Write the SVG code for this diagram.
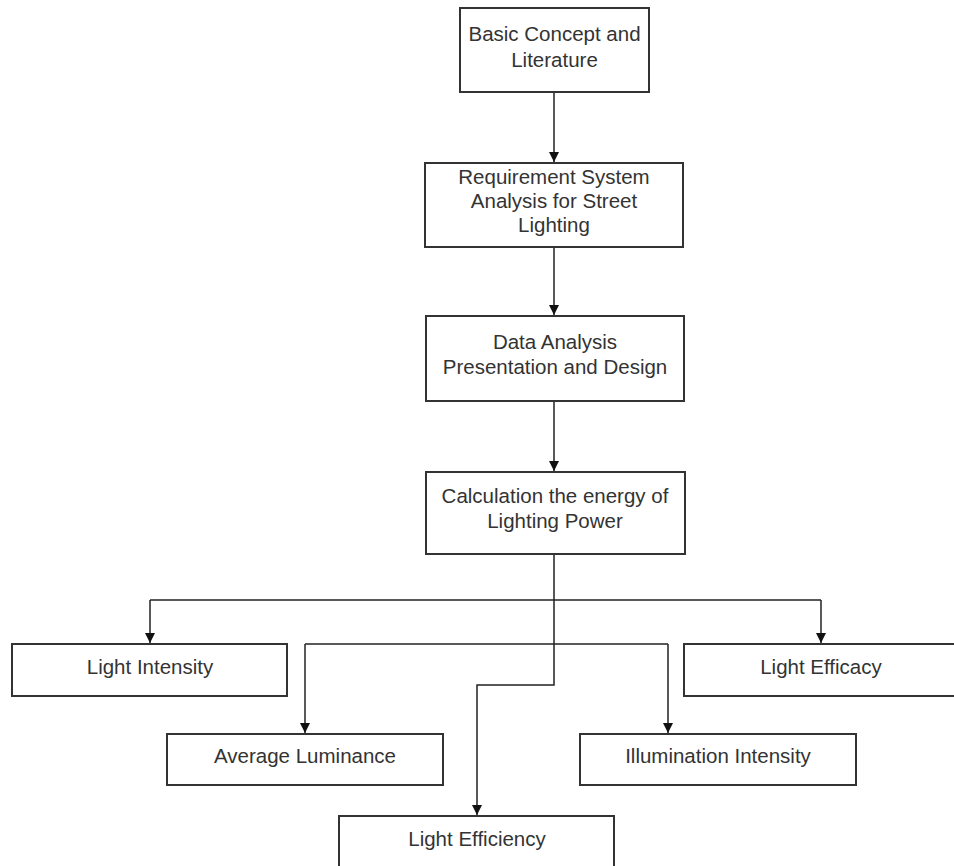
<svg xmlns="http://www.w3.org/2000/svg" width="954" height="866" viewBox="0 0 954 866">
<defs>
<style>
.box{fill:#fff;stroke:#333;stroke-width:2}
.t{font-family:"Liberation Sans",Arial,sans-serif;font-size:20.5px;fill:#333;text-anchor:middle}
.c{fill:none;stroke:#222;stroke-width:1.5}
</style>
<marker id="ah" viewBox="0 0 10 12" refX="10" refY="6" markerWidth="10" markerHeight="12" markerUnits="userSpaceOnUse" orient="auto">
<path d="M0,1 L10,6 L0,11 Z" fill="#111"/>
</marker>
</defs>
<rect width="954" height="866" fill="#fff"/>
<g id="connectors">
<path class="c" d="M554,93 V162" marker-end="url(#ah)"/>
<path class="c" d="M554,247 V315" marker-end="url(#ah)"/>
<path class="c" d="M554,401 V471" marker-end="url(#ah)"/>
<path class="c" d="M554,555 V685 H477 V815" marker-end="url(#ah)"/>
<path class="c" d="M150,600 H821"/>
<path class="c" d="M150,600 V643" marker-end="url(#ah)"/>
<path class="c" d="M821,600 V643" marker-end="url(#ah)"/>
<path class="c" d="M305,644 H668"/>
<path class="c" d="M305,644 V733" marker-end="url(#ah)"/>
<path class="c" d="M668,644 V733" marker-end="url(#ah)"/>
</g>
<g id="n1"><rect class="box" x="460" y="8" width="189" height="84"/>
<text class="t" x="554.5" y="41">Basic Concept and</text><text class="t" x="554.5" y="67">Literature</text></g>
<g id="n2"><rect class="box" x="425" y="163" width="258" height="84"/>
<text class="t" x="554" y="184">Requirement System</text><text class="t" x="554" y="208">Analysis for Street</text><text class="t" x="554" y="232">Lighting</text></g>
<g id="n3"><rect class="box" x="426" y="316" width="258" height="85"/>
<text class="t" x="555" y="349">Data Analysis</text><text class="t" x="555" y="374">Presentation and Design</text></g>
<g id="n4"><rect class="box" x="426" y="472" width="259" height="82"/>
<text class="t" x="555" y="503">Calculation the energy of</text><text class="t" x="555" y="528">Lighting Power</text></g>
<g id="n5"><rect class="box" x="12" y="644" width="275" height="52"/>
<text class="t" x="150" y="674">Light Intensity</text></g>
<g id="n6"><rect class="box" x="684" y="644" width="275" height="52"/>
<text class="t" x="821" y="674">Light Efficacy</text></g>
<g id="n7"><rect class="box" x="167" y="734" width="276" height="51"/>
<text class="t" x="305" y="763">Average Luminance</text></g>
<g id="n8"><rect class="box" x="580" y="734" width="276" height="51"/>
<text class="t" x="718" y="763">Illumination Intensity</text></g>
<g id="n9"><rect class="box" x="339" y="816" width="275" height="60"/>
<text class="t" x="477" y="846">Light Efficiency</text></g>
</svg>
